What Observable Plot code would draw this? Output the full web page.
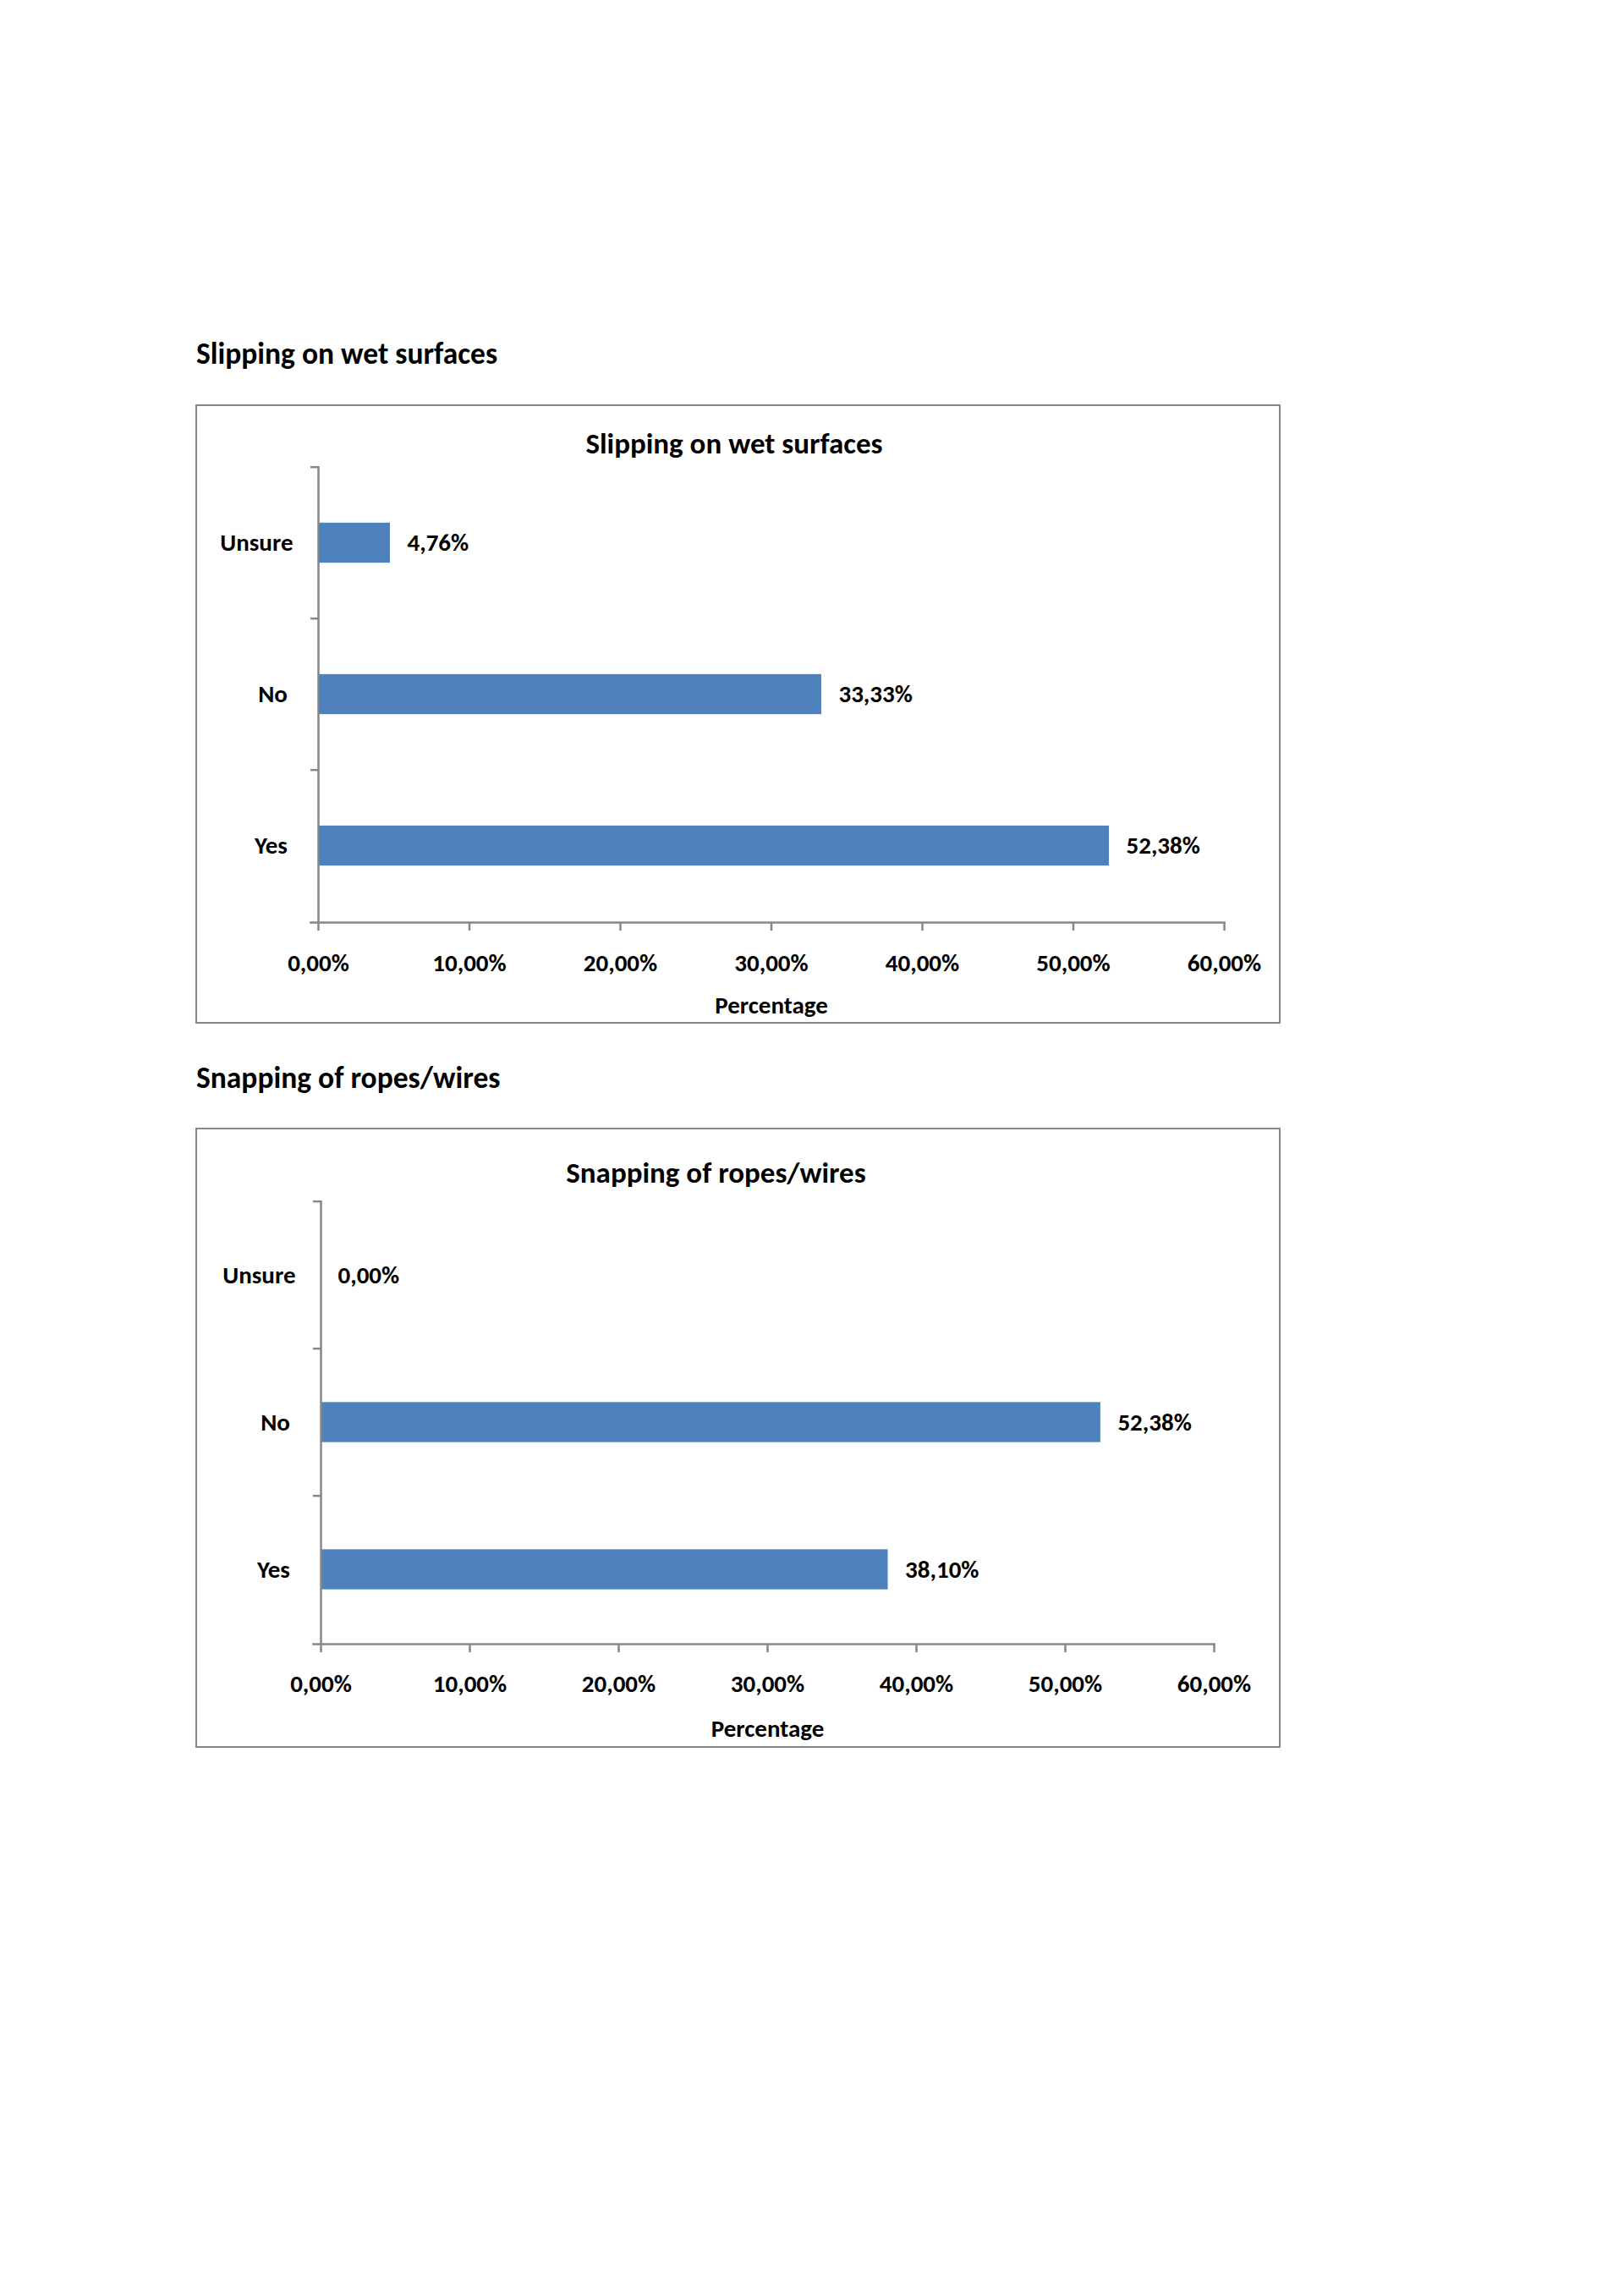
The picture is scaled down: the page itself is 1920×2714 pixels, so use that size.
<!DOCTYPE html>
<html><head><meta charset="utf-8">
<script src="https://cdn.jsdelivr.net/npm/d3@7"></script>
<script src="https://cdn.jsdelivr.net/npm/@observablehq/plot@0.6"></script>
<style>
html,body{margin:0;padding:0;background:#fff;}
body{width:1920px;height:2714px;position:relative;overflow:hidden;font-family:Carlito, Calibri, Lato, sans-serif;font-weight:bold;color:#000;}
.heading{position:absolute;left:232px;font-size:35.5px;line-height:40px;white-space:nowrap;}
.border{position:absolute;box-sizing:border-box;border:2.5px solid #878787;}
.chart{position:absolute;left:232px;}
.chart svg{overflow:visible;display:block;}
</style></head><body>
<div class="heading" style="top:398px">Slipping on wet surfaces</div>
<div class="border" style="left:230.75px;top:477.75px;width:1283.5px;height:732.5px"></div>
<div class="chart" id="c1" style="top:479px"></div>
<div class="heading" style="top:1254px">Snapping of ropes/wires</div>
<div class="border" style="left:230.75px;top:1332.75px;width:1283.5px;height:733.5px"></div>
<div class="chart" id="c2" style="top:1334px"></div>
<script>
const categories = ["Unsure", "No", "Yes"];
const slippingValues = [4.76, 33.33, 52.38];
const snappingValues = [0.00, 52.38, 38.10];
const xTicks = [0, 10, 20, 30, 40, 50, 60];
const slippingTitle = "Slipping on wet surfaces";
const snappingTitle = "Snapping of ropes/wires";
const xLabel = "Percentage";

const FONT = "Carlito, Calibri, Lato, sans-serif";
const GRAY = "#878787";
const BLUE = "#4f81bd";
const fmt = v => v.toFixed(2).replace(".", ",") + "%";
// the source labels "No" and "Yes" carry a trailing space
const catFmt = c => c === "Unsure" ? c : c + "\u00a0";

function chart(cfg) {
  const data = categories.map((c, i) => ({category: c, value: cfg.values[i]}));
  const band = (cfg.height - cfg.mt - cfg.mb) / categories.length;
  const inset = (band - 48) / 2;
  return Plot.plot({
    width: 1281,
    height: cfg.height,
    marginLeft: cfg.ml, marginRight: cfg.mr, marginTop: cfg.mt, marginBottom: cfg.mb,
    style: {fontFamily: FONT, fontSize: "29px", fontWeight: "bold", color: "#000", background: "transparent", overflow: "visible"},
    x: {domain: [0, 60]},
    y: {domain: categories, padding: 0},
    marks: [
      Plot.barX(data, {x: "value", y: "category", fill: BLUE, insetTop: inset, insetBottom: inset}),
      Plot.ruleX([0], {stroke: GRAY, strokeWidth: 2.5}),
      Plot.frame({anchor: "bottom", stroke: GRAY, strokeWidth: 2.5, insetLeft: -9}),
      Plot.axisX(xTicks, {tickSize: 10, tickPadding: cfg.tp, tickFormat: fmt, stroke: GRAY, strokeWidth: 2.5, fill: "#000", label: null}),
      Plot.axisY({tickSize: 0, tickPadding: 30, tickFormat: catFmt, fill: "#000", label: null}),
      Plot.axisY({tickSize: 9, tickFormat: () => "", stroke: GRAY, strokeWidth: 2.5, dy: -band / 2, label: null}),
      Plot.text(data, {x: "value", y: "category", text: d => fmt(d.value), textAnchor: "start", dx: 20, fill: "#000"}),
      Plot.text([cfg.title], {text: d => d, frameAnchor: "top", lineAnchor: "middle", dx: cfg.tdx, dy: cfg.tdy, fontSize: 35, fill: "#000"}),
      Plot.text([xLabel], {text: d => d, frameAnchor: "bottom", dy: cfg.pdy, fill: "#000"})
    ]
  });
}

document.getElementById("c1").append(chart({
  values: slippingValues, title: slippingTitle, height: 730,
  ml: 144, mr: 66, mt: 72, mb: 119, tp: 27, tdx: -44, tdy: -27, pdy: 107
}));
document.getElementById("c2").append(chart({
  values: snappingValues, title: snappingTitle, height: 731,
  ml: 147, mr: 78, mt: 85, mb: 122, tp: 26, tdx: -61, tdy: -33, pdy: 109
}));
</script>
</body></html>
